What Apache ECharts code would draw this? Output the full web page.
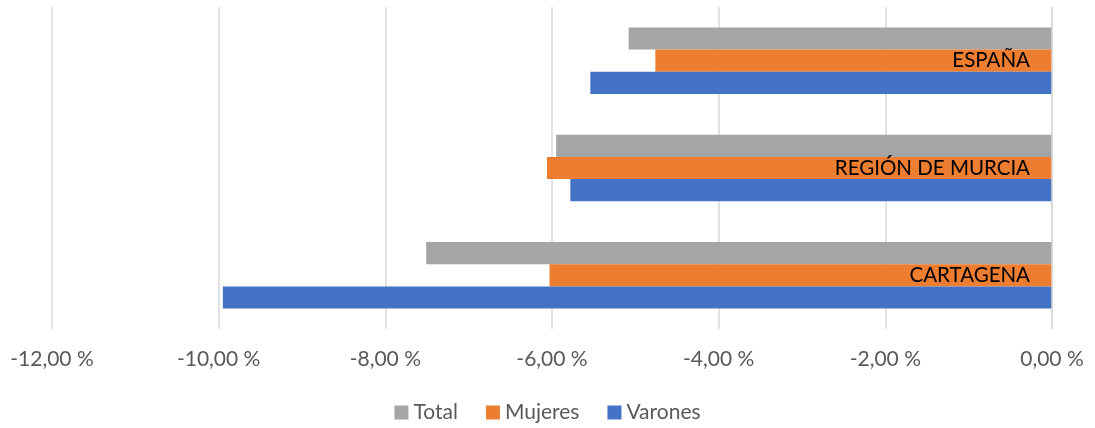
<!DOCTYPE html>
<html>
<head>
<meta charset="utf-8">
<script src="https://cdn.jsdelivr.net/npm/echarts@6/dist/echarts.min.js"></script>
<style>html,body{margin:0;padding:0;background:#fff}#c{width:1095px;height:428px}</style>
</head>
<body>
<div id="c"></div>
<script>
const categories = ['CARTAGENA', 'REGIÓN DE MURCIA', 'ESPAÑA'];
const varones = [-9.95, -5.78, -5.54];
const mujeres = [-6.03, -6.06, -4.76];
const total = [-7.51, -5.95, -5.08];
const legendOrder = ['Total', 'Mujeres', 'Varones'];

const FONT = 'Lato, "Open Sans", sans-serif';
const chart = echarts.init(document.getElementById('c'));
chart.setOption({
  animation: false,
  textStyle: { fontFamily: FONT },
  grid: { left: 52, right: 43, top: 7, bottom: 99, containLabel: false },
  legend: {
    data: legendOrder,
    bottom: 0,
    left: 'center',
    itemWidth: 14,
    itemHeight: 14,
    itemGap: 28,
    icon: 'rect',
    textStyle: { fontFamily: FONT, fontSize: 21, color: '#595959' }
  },
  xAxis: {
    type: 'value',
    min: -12,
    max: 0,
    interval: 2,
    axisLine: { show: false },
    axisTick: { show: false },
    splitLine: { show: true, lineStyle: { color: '#d9d9d9', width: 1.5 } },
    axisLabel: {
      margin: 20,
      fontSize: 21,
      color: '#595959',
      fontFamily: FONT,
      formatter: v => v.toFixed(2).replace('.', ',') + ' %'
    }
  },
  yAxis: {
    type: 'category',
    data: categories,
    position: 'right',
    axisLine: { show: true, lineStyle: { color: '#d9d9d9', width: 1.5 } },
    axisTick: { show: false },
    z: 5,
    axisLabel: {
      inside: true,
      margin: 22,
      fontSize: 20.5,
      color: '#000',
      fontFamily: FONT
    }
  },
  series: [
    { name: 'Total', type: 'bar', data: total, itemStyle: { color: '#a5a5a5' }, barGap: '0%', barCategoryGap: '38%' },
    { name: 'Mujeres', type: 'bar', data: mujeres, itemStyle: { color: '#ed7d31' }, barGap: '0%', barCategoryGap: '38%' },
    { name: 'Varones', type: 'bar', data: varones, itemStyle: { color: '#4472c4' }, barGap: '0%', barCategoryGap: '38%' }
  ]
});
</script>
</body>
</html>
